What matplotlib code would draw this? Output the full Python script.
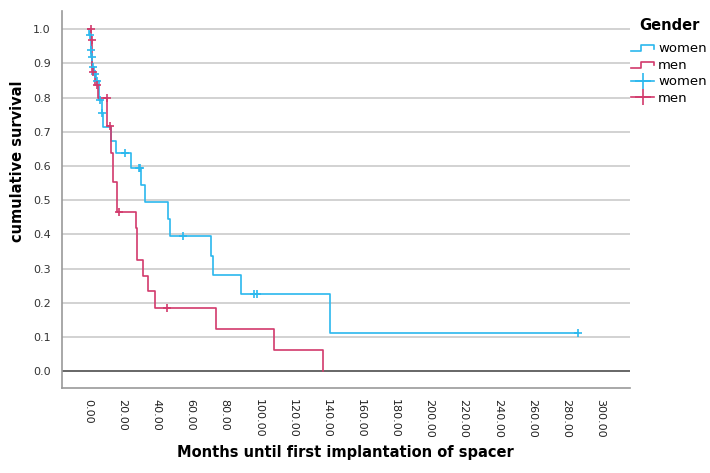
import matplotlib
matplotlib.use('Agg')
import matplotlib.pyplot as plt
from matplotlib.lines import Line2D
from matplotlib.legend_handler import HandlerBase

# Kaplan-Meier steps (time in months, survival after the step)
women_t = [0, 0.8, 1.6, 1.9, 2.5, 3.5, 4.5, 6.5, 8.0, 8.8, 13.6, 16.2, 25.2, 31.0,
           33.4, 46.6, 48.3, 72.0, 73.4, 89.4, 141.8]
women_s = [1.0, 0.983, 0.94, 0.92, 0.89, 0.87, 0.85, 0.793, 0.754, 0.713, 0.674,
           0.637, 0.594, 0.545, 0.494, 0.445, 0.396, 0.337, 0.282, 0.225, 0.113]
women_end = 287.3
women_cens_t = [1.2, 1.7, 2.1, 2.9, 4.0, 5.5, 7.3, 8.5, 21.7, 30.0, 30.6, 55.8,
                97.5, 98.8, 287.3]
women_cens_s = [0.983, 0.94, 0.92, 0.89, 0.87, 0.85, 0.793, 0.754, 0.637, 0.594,
                0.594, 0.396, 0.225, 0.225, 0.113]

men_t = [0, 1.8, 2.6, 4.0, 6.0, 11.4, 13.5, 14.8, 16.8, 28.1, 29.0, 32.4, 35.0,
         39.3, 74.8, 109.0, 137.5]
men_s = [1.0, 0.97, 0.876, 0.837, 0.80, 0.717, 0.638, 0.554, 0.467, 0.42, 0.325,
         0.279, 0.235, 0.186, 0.125, 0.062, 0.0]
men_cens_t = [1.5, 2.2, 3.0, 5.5, 11.2, 12.9, 18.3, 46.5]
men_cens_s = [1.0, 0.97, 0.876, 0.837, 0.80, 0.717, 0.467, 0.186]

x_ticks = list(range(0, 301, 20))
y_ticks = [i / 10 for i in range(11)]

blue = '#2BB8EE'
red = '#D23A6C'


class StepHandler(HandlerBase):
    def create_artists(self, legend, orig_handle, xdescent, ydescent,
                       width, height, fontsize, trans):
        xs = [0, 0.45 * width, 0.45 * width, width, width]
        ys = [0.1 * height, 0.1 * height, 0.75 * height, 0.75 * height, 0.35 * height]
        ln = Line2D([x - xdescent for x in xs], [y - ydescent for y in ys],
                    color=orig_handle.get_color(), lw=1.2, transform=trans)
        return [ln]


fig = plt.figure(figsize=(7.1, 4.73), dpi=100)
ax = fig.add_axes([62 / 710, 1 - 388 / 473, 568 / 710, 377 / 473])

for y in y_ticks[1:]:
    ax.axhline(y, color='#cfcfcf', lw=1.3, zorder=0)
ax.axhline(0, color='#5a5a5a', lw=1.3, zorder=1)

# women curve, horizontal tail out to the last censored case
ax.step(women_t + [women_end], women_s + [women_s[-1]], where='post',
        color=blue, lw=1.2, zorder=3)
ax.plot(women_cens_t, women_cens_s, '+', color=blue, ms=6, mew=1.2, zorder=4)

ax.step(men_t, men_s, where='post', color=red, lw=1.2, zorder=3)
ax.plot(men_cens_t, men_cens_s, '+', color=red, ms=6, mew=1.2, zorder=4)

ax.set_xlim(-15.2, 317.5)
ax.set_ylim(-0.049, 1.0535)
ax.set_xticks(x_ticks)
ax.set_xticklabels(['%.2f' % v for v in x_ticks], rotation=-90, fontsize=8,
                   color='#222222')
ax.set_yticks(y_ticks)
ax.set_yticklabels(['%.1f' % v for v in y_ticks], fontsize=8, color='#333333')
ax.tick_params(axis='both', length=0, pad=8)

for s in ['top', 'right']:
    ax.spines[s].set_visible(False)
for s in ['left', 'bottom']:
    ax.spines[s].set_color('#999999')
    ax.spines[s].set_linewidth(1.2)

fig.text(18 / 710, 1 - 161 / 473, 'cumulative survival', rotation=90,
         fontsize=10.5, fontweight='bold', ha='center', va='center')
fig.text(345 / 710, 1 - 452 / 473, 'Months until first implantation of spacer',
         fontsize=10.5, fontweight='bold', ha='center', va='center')

fig.text(639 / 710, 1 - 25 / 473, 'Gender', fontsize=10.5, fontweight='bold',
         ha='left', va='center')

h1 = Line2D([], [], color=blue)
h2 = Line2D([], [], color=red)
h3 = Line2D([], [], color=blue, marker='+', ms=11, mew=1.2, lw=1.2)
h4 = Line2D([], [], color=red, marker='+', ms=11, mew=1.2, lw=1.2)
leg = fig.legend([h1, h2, h3, h4], ['women', 'men', 'women', 'men'],
                 loc='upper left', bbox_to_anchor=(631 / 710, 1 - 42 / 473),
                 frameon=False, fontsize=9.5,
                 handler_map={h1: StepHandler(), h2: StepHandler()},
                 handlelength=1.75, handletextpad=0.3, labelspacing=0.27,
                 borderpad=0, borderaxespad=0)

fig.savefig('out.png', dpi=100)
